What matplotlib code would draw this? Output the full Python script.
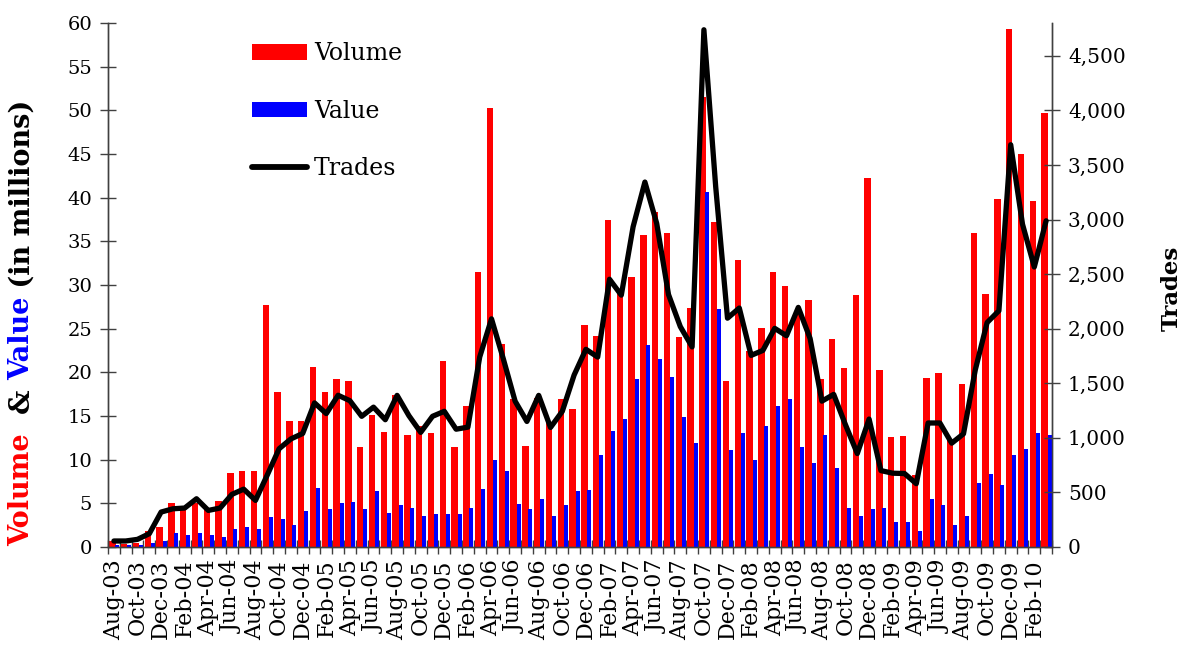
import matplotlib
matplotlib.use("Agg")
import matplotlib.pyplot as plt
from matplotlib.patches import Patch
from matplotlib.lines import Line2D
from matplotlib.ticker import FuncFormatter, FixedLocator
import numpy as np

months = ["Aug-03","Sep-03","Oct-03","Nov-03","Dec-03",
          "Jan-04","Feb-04","Mar-04","Apr-04","May-04","Jun-04","Jul-04","Aug-04","Sep-04","Oct-04","Nov-04","Dec-04",
          "Jan-05","Feb-05","Mar-05","Apr-05","May-05","Jun-05","Jul-05","Aug-05","Sep-05","Oct-05","Nov-05","Dec-05",
          "Jan-06","Feb-06","Mar-06","Apr-06","May-06","Jun-06","Jul-06","Aug-06","Sep-06","Oct-06","Nov-06","Dec-06",
          "Jan-07","Feb-07","Mar-07","Apr-07","May-07","Jun-07","Jul-07","Aug-07","Sep-07","Oct-07","Nov-07","Dec-07",
          "Jan-08","Feb-08","Mar-08","Apr-08","May-08","Jun-08","Jul-08","Aug-08","Sep-08","Oct-08","Nov-08","Dec-08",
          "Jan-09","Feb-09","Mar-09","Apr-09","May-09","Jun-09","Jul-09","Aug-09","Sep-09","Oct-09","Nov-09","Dec-09",
          "Jan-10","Feb-10","Mar-10"]

volume = [0.7, 0.4, 0.5, 1.8, 2.3,
          5.0, 4.7, 5.0, 4.2, 5.3, 8.5, 8.7, 8.7, 27.7, 17.8, 14.4, 14.4,
          20.6, 17.8, 19.2, 19.0, 11.4, 15.1, 13.2, 17.4, 12.8, 13.9, 13.0, 21.3,
          11.4, 16.2, 31.5, 50.3, 23.3, 16.9, 11.6, 17.1, 14.2, 16.9, 15.8, 25.4,
          24.2, 37.5, 29.3, 30.9, 35.7, 38.4, 35.9, 24.0, 27.4, 51.5, 37.2, 19.0,
          32.9, 22.4, 25.1, 31.5, 29.9, 27.0, 28.3, 19.2, 23.8, 20.5, 28.8, 42.3,
          20.3, 12.6, 12.7, 8.2, 19.4, 19.9, 12.3, 18.7, 35.9, 29.0, 39.8, 59.3,
          45.0, 39.6, 49.7]

value = [0.2, 0.2, 0.2, 0.5, 0.7,
         1.6, 1.4, 1.6, 1.4, 1.15, 2.1, 2.3, 2.1, 3.4, 3.2, 2.5, 4.1,
         6.8, 4.3, 5.0, 5.2, 4.3, 6.4, 3.9, 4.8, 4.5, 3.6, 3.8, 3.8,
         3.8, 4.5, 6.6, 10.0, 8.7, 4.9, 4.3, 5.5, 3.6, 4.8, 6.4, 6.5,
         10.5, 13.3, 14.7, 19.2, 23.1, 21.5, 19.5, 14.9, 11.9, 40.7, 27.2, 11.1,
         13.0, 10.0, 13.9, 16.2, 16.9, 11.4, 9.6, 12.8, 9.1, 4.5, 3.6, 4.3,
         4.5, 2.9, 2.9, 1.8, 5.5, 4.8, 2.5, 3.6, 7.3, 8.4, 7.1, 10.5,
         11.2, 13.0, 12.8]

trades = [55, 55, 70, 122, 320,
          350, 357, 442, 335, 357, 482, 530, 427, 660, 900, 990, 1040,
          1320, 1222, 1390, 1340, 1197, 1281, 1166, 1389, 1203, 1050, 1197, 1243,
          1079, 1098, 1740, 2090, 1724, 1336, 1150, 1389, 1095, 1243, 1575, 1811,
          1740, 2453, 2307, 2933, 3343, 2964, 2313, 2019, 1833, 4738, 3300, 2096,
          2189, 1755, 1801, 2003, 1935, 2195, 1910, 1336, 1398, 1119, 856, 1172,
          700, 676, 673, 580, 1136, 1136, 951, 1037, 1623, 2056, 2164, 3685,
          2957, 2565, 2988]

left_ticks = list(range(0, 61, 5))
right_ticks = list(range(0, 4501, 500))

plt.rcParams["font.family"] = ["DejaVu Serif"]

fig = plt.figure(figsize=(11.87, 6.47), dpi=100)
ax = fig.add_axes([108/1187, 100/647, (1052-108)/1187, (547-23)/647])
ax2 = ax.twinx()

x = np.arange(len(months))
ax.bar(x - 0.13, volume, width=0.54, color="#ff0000", zorder=2)
ax.bar(x + 0.29, value, width=0.34, color="#0000ff", zorder=3)
ax2.plot(x, trades, color="black", lw=3.8, solid_joinstyle="round",
         solid_capstyle="round", zorder=4)

ax.set_xlim(-0.5, len(months) - 0.5)
ax.set_ylim(0, 60)
ax2.set_ylim(0, 4800)
ax.set_yticks(left_ticks)
ax2.set_yticks(right_ticks)
ax2.yaxis.set_major_formatter(FuncFormatter(lambda v, p: f"{int(v):,}"))

ax.set_xticks(x[::2])
ax.set_xticklabels(months[::2], rotation=90, fontsize=16)
ax.tick_params(axis="x", which="major", length=0, pad=9)
ax.xaxis.set_minor_locator(FixedLocator(np.arange(-0.5, len(months), 1.0)))
ax.tick_params(axis="x", which="minor", direction="inout", length=10, width=1, color="#404040")
ax.tick_params(axis="y", direction="inout", length=11, width=1, color="#404040", labelsize=14, pad=6)
ax2.tick_params(axis="y", direction="inout", length=11, width=1, color="#404040", labelsize=14.5, pad=6)

for a in (ax, ax2):
    a.spines["top"].set_visible(False)
    for s in ("left", "right", "bottom"):
        a.spines[s].set_color("#404040")
        a.spines[s].set_linewidth(1.0)
ax2.patch.set_visible(False)

# Legend
handles = [Patch(facecolor="#ff0000", edgecolor="none"),
           Patch(facecolor="#0000ff", edgecolor="none"),
           Line2D([0], [0], color="black", lw=4.2, solid_capstyle="round")]
leg = ax2.legend(handles, ["Volume", "Value", "Trades"], loc="upper left",
                 bbox_to_anchor=((243-108)/944, (547-33)/524), frameon=False,
                 fontsize=17, handlelength=2.3, handleheight=0.65,
                 labelspacing=1.45, handletextpad=0.3, borderaxespad=0)

# Right axis label
fig.text(1172/1187, 1 - 288/647, "Trades", rotation=90, ha="center", va="center",
         fontsize=16.5, fontweight="bold")

# Left multi-coloured label
fig.canvas.draw()
renderer = fig.canvas.get_renderer()
pieces = [("Volume", "#ff0000"), ("  & ", "black"), ("Value", "#0000ff"), (" (in millions)", "black")]
ypix = 546
xpix = 22
for txt, col in pieces:
    t = fig.text(xpix/1187, 1 - ypix/647, txt, rotation=90,
                 ha="center", va="bottom", fontsize=19.5, fontweight="bold", color=col)
    bb = t.get_window_extent(renderer)
    ypix -= bb.height

fig.savefig("out.png", dpi=100)
